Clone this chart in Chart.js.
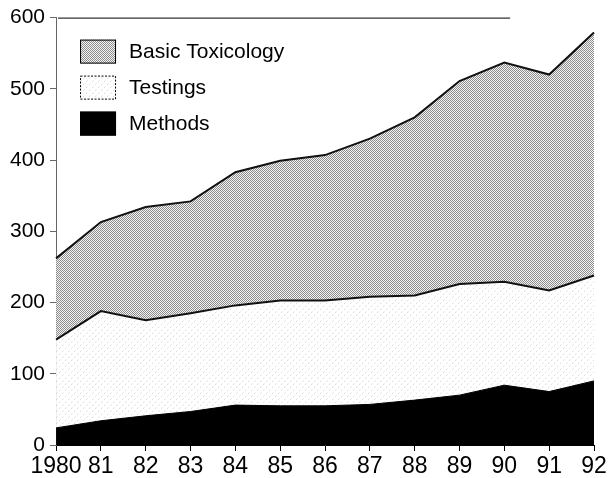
<!DOCTYPE html>
<html>
<head>
<meta charset="utf-8">
<script src="https://cdn.jsdelivr.net/npm/chart.js@4/dist/chart.umd.min.js"></script>
<style>
  html, body { margin: 0; padding: 0; background: #fff; }
  #wrap { width: 612px; height: 478px; position: relative; }
</style>
</head>
<body>
<div id="wrap"><canvas id="c" width="612" height="478"></canvas></div>
<script>
// ---- data ----
const years = ['1980','81','82','83','84','85','86','87','88','89','90','91','92'];
const methods   = [24, 34, 41, 47, 56, 55, 55, 57, 63, 70, 84, 75, 90];
const testings  = [124, 154, 134, 138, 140, 148, 148, 151, 147, 156, 145, 142, 148];
const basicTox  = [114, 125, 159, 157, 187, 196, 204, 222, 250, 285, 308, 303, 341];
const seriesNames = ['Basic Toxicology', 'Testings', 'Methods'];
const yTickValues = [0, 100, 200, 300, 400, 500, 600];

const FONT = '"Liberation Sans", Arial, Helvetica, sans-serif';
const canvas = document.getElementById('c');
const ctx = canvas.getContext('2d');

function makePattern(size, draw) {
  const c = document.createElement('canvas');
  c.width = size; c.height = size;
  const g = c.getContext('2d');
  draw(g, size);
  return ctx.createPattern(c, 'repeat');
}
// dense dot screen (Basic Toxicology)
const basicPattern = makePattern(2, (g) => {
  g.fillStyle = '#f4f4f4'; g.fillRect(0, 0, 2, 2);
  g.fillStyle = '#8c8c8c'; g.fillRect(0, 0, 1, 1); g.fillRect(1, 1, 1, 1);
});
// light sparse dots (Testings)
const testPattern = makePattern(6, (g) => {
  g.fillStyle = '#ffffff'; g.fillRect(0, 0, 6, 6);
  g.fillStyle = '#dcdcdc';
  g.fillRect(5, 0, 1, 1); g.fillRect(2, 3, 1, 1);
  g.fillStyle = '#eeeeee';
  g.fillRect(3, 2, 1, 1); g.fillRect(0, 5, 1, 1);
});

const legendPlugin = {
  id: 'customLegend',
  afterDraw(chart) {
    const c = chart.ctx;
    const area = chart.chartArea;
    const xs = chart.scales.x;
    c.save();
    // partial top frame line
    c.strokeStyle = '#000'; c.lineWidth = 1;
    c.beginPath();
    c.moveTo(area.left + 2, area.top + 0.5);
    c.lineTo(xs.getPixelForValue(10.13), area.top + 0.5);
    c.stroke();
    // legend
    const fills = [basicPattern, testPattern, '#000'];
    const boxX = area.left + 24, boxW = 36, boxH = 24;
    const rows = [area.top + 22, area.top + 58, area.top + 94];
    c.font = '21px ' + FONT;
    c.textBaseline = 'middle';
    seriesNames.forEach((name, i) => {
      const y = rows[i];
      c.fillStyle = fills[i];
      c.fillRect(boxX, y, boxW, boxH);
      c.strokeStyle = '#000';
      c.lineWidth = 1;
      if (i === 1) c.setLineDash([2, 1.5]); else c.setLineDash([]);
      c.strokeRect(boxX + 0.5, y + 0.5, boxW - 1, boxH - 1);
      c.setLineDash([]);
      c.fillStyle = '#000';
      c.fillText(name, boxX + boxW + 13, y + boxH / 2 + 1);
    });
    c.restore();
  }
};

new Chart(ctx, {
  type: 'line',
  data: {
    labels: years,
    datasets: [
      { label: seriesNames[2], data: methods, fill: 'origin', backgroundColor: '#000',
        borderColor: '#000', borderWidth: 1, pointRadius: 0, tension: 0 },
      { label: seriesNames[1], data: testings, fill: '-1', backgroundColor: testPattern,
        borderColor: '#111', borderWidth: 2, pointRadius: 0, tension: 0 },
      { label: seriesNames[0], data: basicTox, fill: '-1', backgroundColor: basicPattern,
        borderColor: '#111', borderWidth: 2, pointRadius: 0, tension: 0 }
    ]
  },
  options: {
    responsive: false,
    animation: false,
    layout: { padding: { top: 6, right: 18, left: 5, bottom: 0 } },
    plugins: { legend: { display: false }, tooltip: { enabled: false } },
    scales: {
      x: {
        offset: false,
        afterFit(scale) { scale.height = 33; },
        grid: { display: true, drawOnChartArea: false, drawTicks: true, tickLength: 6, color: '#000' },
        border: { display: true, color: '#000', width: 1 },
        ticks: { color: '#000', font: { family: FONT, size: 23 }, padding: 2, maxRotation: 0, autoSkip: false }
      },
      y: {
        stacked: true,
        min: 0, max: 600,
        afterBuildTicks(scale) { scale.ticks = yTickValues.map(v => ({ value: v })); },
        grid: { display: true, drawOnChartArea: false, drawTicks: true, tickLength: 6, color: '#666' },
        border: { display: true, color: '#666', width: 1 },
        ticks: { color: '#000', font: { family: FONT, size: 21 }, padding: 5 }
      }
    }
  },
  plugins: [legendPlugin]
});
</script>
</body>
</html>
